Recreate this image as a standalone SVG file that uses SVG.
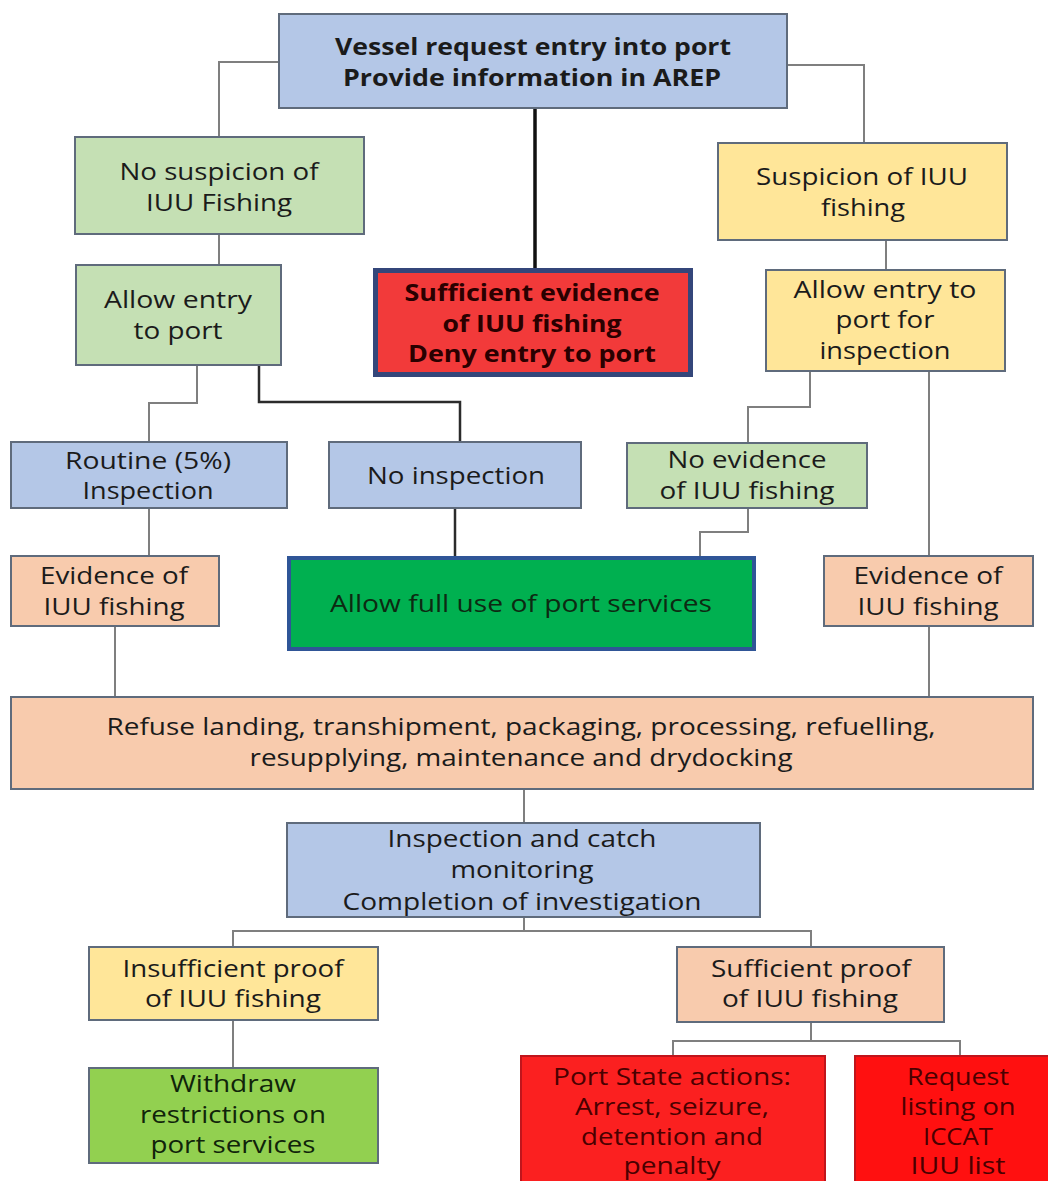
<svg xmlns="http://www.w3.org/2000/svg" width="1048" height="1181" viewBox="0 0 1048 1181">
<style>
  text { font-family: "Open Sans", "Noto Sans", "DejaVu Sans", sans-serif; font-size: 23px; fill: #1b1b1b; text-anchor: middle; }
  .b { font-weight: bold; font-size: 24px; }
  .box { stroke: #5f6b7c; stroke-width: 2; }
  .blue { fill: #b4c7e7; }
  .lgreen { fill: #c5e0b4; }
  .yellow { fill: #ffe699; }
  .peach { fill: #f8cbad; }
  .conn { fill: none; stroke: #7f7f7f; stroke-width: 2; }
  .dark { stroke: #2b2b2b; stroke-width: 2.5; }
  .redtxt { fill: #4a0000; }
</style>
<rect width="1048" height="1181" fill="#ffffff"/>

<g id="connectors">
  <path class="conn" d="M279,62 H219 V137"/>
  <path class="conn" d="M787,65 H864 V143"/>
  <path class="conn" d="M535,108 V268" style="stroke:#111;stroke-width:3.5"/>
  <path class="conn" d="M219,234 V265"/>
  <path class="conn" d="M197,365 V403 H149 V442"/>
  <path class="conn dark" d="M259,365 V402 H460 V442"/>
  <path class="conn" d="M149,508 V556"/>
  <path class="conn dark" d="M455,508 V556"/>
  <path class="conn" d="M886,240 V270"/>
  <path class="conn" d="M810,371 V407 H748 V443"/>
  <path class="conn" d="M748,508 V532 H700 V556"/>
  <path class="conn" d="M929,371 V556"/>
  <path class="conn" d="M115,626 V697"/>
  <path class="conn" d="M929,626 V697"/>
  <path class="conn" d="M524,789 V823"/>
  <path class="conn" d="M524,917 V931"/>
  <path class="conn" d="M233,947 V931 H811 V947"/>
  <path class="conn" d="M233,1020 V1068"/>
  <path class="conn" d="M811,1022 V1041"/>
  <path class="conn" d="M673,1056 V1041 H960 V1056"/>
</g>

<g id="vessel-request">
  <rect class="box blue" x="279" y="14" width="508" height="94"/>
  <text class="b" x="533" y="55" textLength="396" lengthAdjust="spacingAndGlyphs">Vessel request entry into port</text>
  <text class="b" x="532" y="86" textLength="378" lengthAdjust="spacingAndGlyphs">Provide information in AREP</text>
</g>

<g id="no-suspicion">
  <rect class="box lgreen" x="75" y="137" width="289" height="97"/>
  <text x="219" y="180" textLength="199" lengthAdjust="spacingAndGlyphs">No suspicion of</text>
  <text x="219" y="211" textLength="146" lengthAdjust="spacingAndGlyphs">IUU Fishing</text>
</g>

<g id="allow-entry">
  <rect class="box lgreen" x="76" y="265" width="205" height="100"/>
  <text x="178" y="308" textLength="148" lengthAdjust="spacingAndGlyphs">Allow entry</text>
  <text x="178" y="339" textLength="89" lengthAdjust="spacingAndGlyphs">to port</text>
</g>

<g id="deny-entry">
  <rect x="375.5" y="270.5" width="315" height="104" fill="#f23a3a" stroke="#34467a" stroke-width="5"/>
  <text class="b" x="532" y="301" textLength="255" lengthAdjust="spacingAndGlyphs" style="fill:#2a0000">Sufficient evidence</text>
  <text class="b" x="532" y="332" textLength="179" lengthAdjust="spacingAndGlyphs" style="fill:#2a0000">of IUU fishing</text>
  <text class="b" x="532" y="362" textLength="248" lengthAdjust="spacingAndGlyphs" style="fill:#2a0000">Deny entry to port</text>
</g>

<g id="suspicion">
  <rect class="box yellow" x="718" y="143" width="289" height="97"/>
  <text x="862" y="185" textLength="212" lengthAdjust="spacingAndGlyphs">Suspicion of IUU</text>
  <text x="863" y="216" textLength="84" lengthAdjust="spacingAndGlyphs">fishing</text>
</g>

<g id="allow-inspection">
  <rect class="box yellow" x="766" y="270" width="239" height="101"/>
  <text x="885" y="298" textLength="183" lengthAdjust="spacingAndGlyphs">Allow entry to</text>
  <text x="885" y="328" textLength="99" lengthAdjust="spacingAndGlyphs">port for</text>
  <text x="885" y="359" textLength="131" lengthAdjust="spacingAndGlyphs">inspection</text>
</g>

<g id="routine">
  <rect class="box blue" x="11" y="442" width="276" height="66"/>
  <text x="148" y="469" textLength="166" lengthAdjust="spacingAndGlyphs">Routine (5%)</text>
  <text x="148" y="499" textLength="131" lengthAdjust="spacingAndGlyphs">Inspection</text>
</g>

<g id="no-inspection">
  <rect class="box blue" x="329" y="442" width="252" height="66"/>
  <text x="456" y="484" textLength="178" lengthAdjust="spacingAndGlyphs">No inspection</text>
</g>

<g id="no-evidence">
  <rect class="box lgreen" x="627" y="443" width="240" height="65"/>
  <text x="747" y="468" textLength="159" lengthAdjust="spacingAndGlyphs">No evidence</text>
  <text x="747" y="499" textLength="175" lengthAdjust="spacingAndGlyphs">of IUU fishing</text>
</g>

<g id="evidence-left">
  <rect class="box peach" x="11" y="556" width="208" height="70"/>
  <text x="114" y="584" textLength="148" lengthAdjust="spacingAndGlyphs">Evidence of</text>
  <text x="114" y="615" textLength="141" lengthAdjust="spacingAndGlyphs">IUU fishing</text>
</g>

<g id="allow-full">
  <rect x="289" y="558" width="465" height="91" fill="#00b050" stroke="#2f5597" stroke-width="4"/>
  <text x="521" y="612" textLength="382" lengthAdjust="spacingAndGlyphs" style="fill:#0d2a12">Allow full use of port services</text>
</g>

<g id="evidence-right">
  <rect class="box peach" x="824" y="556" width="209" height="70"/>
  <text x="928" y="584" textLength="149" lengthAdjust="spacingAndGlyphs">Evidence of</text>
  <text x="928" y="615" textLength="141" lengthAdjust="spacingAndGlyphs">IUU fishing</text>
</g>

<g id="refuse">
  <rect class="box peach" x="11" y="697" width="1022" height="92"/>
  <text x="521" y="735" textLength="829" lengthAdjust="spacingAndGlyphs">Refuse landing, transhipment, packaging, processing, refuelling,</text>
  <text x="521" y="766" textLength="543" lengthAdjust="spacingAndGlyphs">resupplying, maintenance and drydocking</text>
</g>

<g id="inspection-monitoring">
  <rect class="box blue" x="287" y="823" width="473" height="94"/>
  <text x="522" y="847" textLength="269" lengthAdjust="spacingAndGlyphs">Inspection and catch</text>
  <text x="522" y="878" textLength="143" lengthAdjust="spacingAndGlyphs">monitoring</text>
  <text x="522" y="910" textLength="359" lengthAdjust="spacingAndGlyphs">Completion of investigation</text>
</g>

<g id="insufficient-proof">
  <rect class="box yellow" x="89" y="947" width="289" height="73"/>
  <text x="233" y="977" textLength="221" lengthAdjust="spacingAndGlyphs">Insufficient proof</text>
  <text x="233" y="1007" textLength="176" lengthAdjust="spacingAndGlyphs">of IUU fishing</text>
</g>

<g id="sufficient-proof">
  <rect class="box peach" x="677" y="947" width="267" height="75"/>
  <text x="811" y="977" textLength="200" lengthAdjust="spacingAndGlyphs">Sufficient proof</text>
  <text x="810" y="1007" textLength="176" lengthAdjust="spacingAndGlyphs">of IUU fishing</text>
</g>

<g id="withdraw">
  <rect class="box" x="89" y="1068" width="289" height="95" fill="#92d050"/>
  <text x="233" y="1092" textLength="126" lengthAdjust="spacingAndGlyphs" style="fill:#10240a">Withdraw</text>
  <text x="233" y="1123" textLength="186" lengthAdjust="spacingAndGlyphs" style="fill:#10240a">restrictions on</text>
  <text x="233" y="1153" textLength="165" lengthAdjust="spacingAndGlyphs" style="fill:#10240a">port services</text>
</g>

<g id="port-state-actions">
  <rect x="521" y="1056" width="304" height="140" fill="#fb2020" stroke="#c0151c" stroke-width="2"/>
  <text class="redtxt" x="672" y="1085" textLength="238" lengthAdjust="spacingAndGlyphs">Port State actions:</text>
  <text class="redtxt" x="672" y="1115" textLength="194" lengthAdjust="spacingAndGlyphs">Arrest, seizure,</text>
  <text class="redtxt" x="672" y="1145" textLength="182" lengthAdjust="spacingAndGlyphs">detention and</text>
  <text class="redtxt" x="672" y="1174" textLength="97" lengthAdjust="spacingAndGlyphs">penalty</text>
</g>

<g id="request-listing">
  <rect x="855" y="1056" width="200" height="140" fill="#ff1010" stroke="#c0151c" stroke-width="2"/>
  <text class="redtxt" x="958" y="1085" textLength="102" lengthAdjust="spacingAndGlyphs">Request</text>
  <text class="redtxt" x="958" y="1115" textLength="115" lengthAdjust="spacingAndGlyphs">listing on</text>
  <text class="redtxt" x="958" y="1145" textLength="70" lengthAdjust="spacingAndGlyphs">ICCAT</text>
  <text class="redtxt" x="958" y="1174" textLength="95" lengthAdjust="spacingAndGlyphs">IUU list</text>
</g>
</svg>
